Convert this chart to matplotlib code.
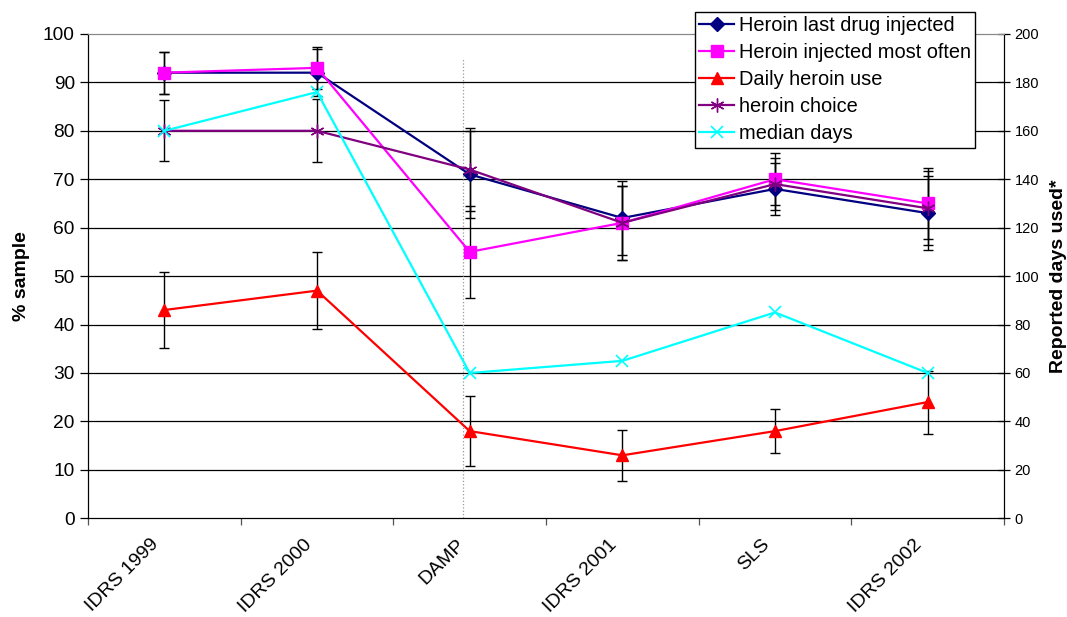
import numpy as np
import matplotlib
matplotlib.use("Agg")
import matplotlib.pyplot as plt
from matplotlib.transforms import ScaledTranslation

# ── Data ────────────────────────────────────────────────────────────────────
surveys = ["IDRS 1999", "IDRS 2000", "DAMP", "IDRS 2001", "SLS", "IDRS 2002"]

heroin_last = [92, 92, 71, 62, 68, 63]
heroin_last_err = [4.3, 4.8, 9.0, 7.7, 5.4, 7.7]

heroin_most = [92, 93, 55, 61, 70, 65]
heroin_most_err = [4.3, 4.3, 9.5, 7.7, 5.4, 7.4]

daily_use = [43, 47, 18, 13, 18, 24]
daily_use_err = [7.9, 8.0, 7.3, 5.3, 4.5, 6.5]

heroin_choice = [80, 80, 72, 61, 69, 64]
heroin_choice_err = [6.3, 6.5, 8.5, 7.7, 5.4, 7.6]

median_days = [160, 176, 60, 65, 85, 60]

# dotted separator sits just left of DAMP
divider_x = 1.953
divider_top = 95

plt.rcParams["font.family"] = ["Liberation Sans", "DejaVu Sans"]

fig = plt.figure(figsize=(10.67, 6.17), dpi=100)
ax = fig.add_axes([0.0825, 0.16, 0.8585, 0.785])
ax2 = ax.twinx()

x = np.arange(len(surveys))

# gridlines
for v in range(10, 100, 10):
    ax.axhline(v, color="black", linewidth=0.9, zorder=1)

ax.plot([divider_x, divider_x], [0, divider_top], color="#999999",
        linestyle=":", linewidth=0.9, zorder=1)

series = [
    ("Heroin last drug injected", heroin_last, heroin_last_err, "#000080", "D", 7),
    ("Heroin injected most often", heroin_most, heroin_most_err, "#FF00FF", "s", 8.5),
    ("Daily heroin use", daily_use, daily_use_err, "#FF0000", "^", 8.5),
    ("heroin choice", heroin_choice, heroin_choice_err, "#800080", (6, 2, 0), 10),
]

handles = []
for label, vals, err, color, marker, ms in series:
    ax.errorbar(x, vals, yerr=err, fmt="none", ecolor="black", elinewidth=1.0,
                capsize=3.5, capthick=1.0, zorder=2)
    (h,) = ax.plot(x, vals, color=color, linewidth=1.6, marker=marker,
                   markersize=ms, markeredgecolor=color, markerfacecolor=color,
                   markeredgewidth=1.0, label=label, zorder=3)
    handles.append(h)

(h,) = ax2.plot(x, median_days, color="#00FFFF", linewidth=1.6, marker="x",
                markersize=9, markeredgewidth=1.2, label="median days", zorder=3)
handles.append(h)

# axes
ax.set_xlim(-0.5, len(surveys) - 0.5)
ax.set_ylim(0, 100)
ax2.set_ylim(0, 200)

ax.set_yticks(range(0, 101, 10))
ax.tick_params(axis="y", labelsize=13.8, direction="out", length=6, width=0.9)
ax2.set_yticks(range(0, 201, 20))
ax2.tick_params(axis="y", labelsize=10.5, direction="inout", length=8, width=0.9)

ax.set_xticks(np.arange(-0.5, len(surveys), 1.0))
ax.set_xticklabels([])
ax.tick_params(axis="x", which="major", direction="out", length=5, width=0.9,
               color="#555555")
ax.set_xticks(x, minor=True)
ax.set_xticklabels(surveys, minor=True, rotation=45, ha="right", va="center",
                   rotation_mode="anchor", fontsize=14)
ax.tick_params(axis="x", which="minor", length=0, pad=17)
shift = ScaledTranslation(-8 / 100, 0, fig.dpi_scale_trans)
for lbl in ax.get_xticklabels(minor=True):
    lbl.set_transform(lbl.get_transform() + shift)

ax.set_ylabel("% sample", fontsize=14, fontweight="bold", labelpad=9)
ax2.set_ylabel("Reported days used*", fontsize=14, fontweight="bold", labelpad=8)

for a in (ax, ax2):
    a.spines["top"].set_color("#888888")
    a.spines["left"].set_color("black")
    a.spines["right"].set_color("black")
    a.spines["bottom"].set_color("black")

fig.legend(handles=handles, loc="upper left", bbox_to_anchor=(0.651, 0.981),
           bbox_transform=fig.transFigure, fontsize=14.4, frameon=True,
           fancybox=False, edgecolor="black", framealpha=1.0,
           borderaxespad=0, borderpad=0.22, labelspacing=0.4,
           handlelength=1.75, handletextpad=0.25)

fig.savefig("out.png", dpi=100)
